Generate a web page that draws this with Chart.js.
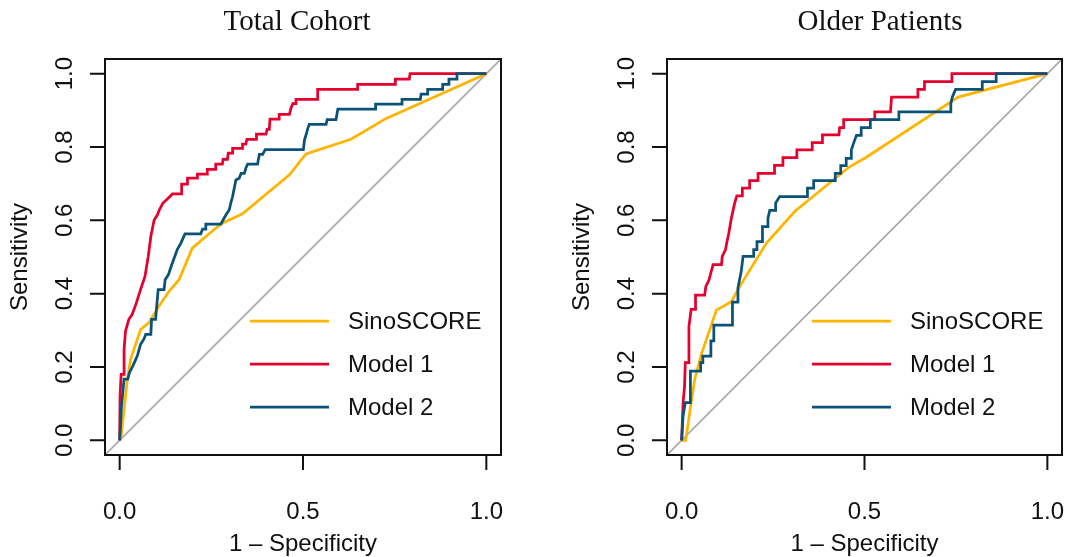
<!DOCTYPE html>
<html>
<head>
<meta charset="utf-8">
<script src="https://cdn.jsdelivr.net/npm/chart.js@4.4.0/dist/chart.umd.min.js"></script>
<style>
  body { margin: 0; background: #fff; }
  #wrap { position: relative; width: 1071px; height: 557px; }
  canvas { position: absolute; top: 0; }
</style>
</head>
<body>
<div id="wrap">
  <canvas id="totalChart" width="535" height="557" style="left:0"></canvas>
  <canvas id="olderChart" width="536" height="557" style="left:535px"></canvas>
</div>
<script>
// series names + tick labels
const seriesNames = ['SinoSCORE', 'Model 1', 'Model 2'];
const xTickValues = [0, 0.5, 1];
const xTickLabels = ['0.0', '0.5', '1.0'];
const yTickValues = [0, 0.2, 0.4, 0.6, 0.8, 1];
const yTickLabels = ['0.0', '0.2', '0.4', '0.6', '0.8', '1.0'];
const diagX = [-0.04, 1.04];
const diagY = [-0.04, 1.04];

// Total cohort (1 - specificity, sensitivity)
const totalSinoFpr = [0.003, 0.012, 0.021, 0.030, 0.057, 0.080, 0.107, 0.135, 0.162, 0.198, 0.240, 0.276, 0.335, 0.463, 0.508, 0.631, 0.727, 1.0];
const totalSinoSens = [0.0, 0.085, 0.167, 0.221, 0.302, 0.321, 0.366, 0.407, 0.438, 0.524, 0.560, 0.590, 0.618, 0.724, 0.781, 0.821, 0.878, 1.0];

const totalM1Fpr = [0, 0.001, 0.004, 0.012, 0.012, 0.016, 0.025, 0.034, 0.044, 0.057, 0.069, 0.078, 0.085, 0.094, 0.103, 0.109, 0.118, 0.130, 0.144, 0.169, 0.169, 0.185, 0.185, 0.212, 0.212, 0.239, 0.239, 0.262, 0.262, 0.280, 0.282, 0.294, 0.296, 0.308, 0.308, 0.335, 0.335, 0.344, 0.347, 0.373, 0.373, 0.399, 0.402, 0.408, 0.410, 0.435, 0.435, 0.463, 0.467, 0.472, 0.481, 0.481, 0.540, 0.540, 0.649, 0.649, 0.752, 0.752, 0.790, 0.792, 1.0];
const totalM1Sens = [0, 0.121, 0.180, 0.180, 0.248, 0.298, 0.330, 0.343, 0.370, 0.411, 0.447, 0.502, 0.556, 0.601, 0.615, 0.630, 0.647, 0.658, 0.672, 0.672, 0.699, 0.699, 0.715, 0.715, 0.726, 0.726, 0.739, 0.739, 0.753, 0.753, 0.766, 0.766, 0.783, 0.783, 0.796, 0.796, 0.808, 0.808, 0.821, 0.821, 0.835, 0.835, 0.848, 0.848, 0.876, 0.876, 0.889, 0.889, 0.905, 0.918, 0.918, 0.930, 0.930, 0.957, 0.957, 0.971, 0.971, 0.985, 0.985, 1.0, 1.0];

const totalM2Fpr = [0, 0.005, 0.012, 0.022, 0.027, 0.036, 0.048, 0.057, 0.066, 0.071, 0.085, 0.087, 0.098, 0.105, 0.121, 0.124, 0.133, 0.142, 0.157, 0.167, 0.178, 0.221, 0.226, 0.235, 0.235, 0.276, 0.282, 0.290, 0.299, 0.303, 0.308, 0.317, 0.326, 0.331, 0.340, 0.344, 0.349, 0.376, 0.381, 0.390, 0.397, 0.501, 0.504, 0.508, 0.513, 0.517, 0.563, 0.566, 0.590, 0.595, 0.698, 0.698, 0.770, 0.770, 0.820, 0.822, 0.840, 0.840, 0.881, 0.881, 0.898, 0.898, 0.920, 0.920, 1.0];
const totalM2Sens = [0, 0.094, 0.167, 0.167, 0.185, 0.203, 0.230, 0.262, 0.276, 0.289, 0.289, 0.330, 0.330, 0.411, 0.411, 0.438, 0.452, 0.479, 0.520, 0.538, 0.563, 0.563, 0.576, 0.576, 0.590, 0.590, 0.601, 0.615, 0.629, 0.647, 0.665, 0.710, 0.715, 0.728, 0.728, 0.742, 0.753, 0.753, 0.780, 0.780, 0.793, 0.793, 0.819, 0.832, 0.850, 0.862, 0.862, 0.875, 0.875, 0.903, 0.903, 0.917, 0.917, 0.930, 0.930, 0.944, 0.944, 0.957, 0.957, 0.971, 0.971, 0.985, 0.985, 1.0, 1.0];

// Older patients
const olderSinoFpr = [0, 0.011, 0.017, 0.026, 0.036, 0.054, 0.095, 0.136, 0.159, 0.232, 0.309, 0.459, 0.505, 0.756, 1.0];
const olderSinoSens = [0, 0, 0.040, 0.103, 0.167, 0.235, 0.355, 0.378, 0.420, 0.538, 0.624, 0.746, 0.772, 0.936, 1.0];

const olderM1Fpr = [0, 0.004, 0.008, 0.010, 0.019, 0.020, 0.026, 0.038, 0.038, 0.063, 0.066, 0.075, 0.081, 0.086, 0.109, 0.111, 0.120, 0.124, 0.129, 0.136, 0.145, 0.151, 0.166, 0.166, 0.186, 0.186, 0.209, 0.209, 0.254, 0.254, 0.277, 0.277, 0.315, 0.315, 0.357, 0.357, 0.385, 0.385, 0.430, 0.432, 0.443, 0.443, 0.528, 0.528, 0.571, 0.574, 0.646, 0.646, 0.664, 0.664, 0.739, 0.739, 1.0];
const olderM1Sens = [0, 0.103, 0.148, 0.212, 0.212, 0.311, 0.357, 0.357, 0.396, 0.396, 0.419, 0.438, 0.461, 0.479, 0.479, 0.502, 0.520, 0.542, 0.565, 0.606, 0.647, 0.667, 0.667, 0.688, 0.688, 0.708, 0.708, 0.728, 0.728, 0.750, 0.750, 0.771, 0.771, 0.792, 0.792, 0.812, 0.812, 0.833, 0.833, 0.853, 0.853, 0.875, 0.875, 0.896, 0.896, 0.936, 0.936, 0.957, 0.957, 0.978, 0.978, 1.0, 1.0];

const olderM2Fpr = [0, 0.004, 0.010, 0.024, 0.024, 0.052, 0.052, 0.058, 0.058, 0.080, 0.080, 0.088, 0.088, 0.139, 0.139, 0.154, 0.154, 0.163, 0.168, 0.197, 0.197, 0.206, 0.206, 0.221, 0.221, 0.236, 0.236, 0.241, 0.257, 0.257, 0.268, 0.344, 0.344, 0.361, 0.361, 0.420, 0.420, 0.435, 0.435, 0.450, 0.450, 0.464, 0.464, 0.470, 0.478, 0.491, 0.491, 0.516, 0.516, 0.594, 0.594, 0.736, 0.736, 0.740, 0.749, 0.822, 0.822, 0.860, 0.860, 1.0];
const olderM2Sens = [0, 0.067, 0.103, 0.103, 0.189, 0.189, 0.212, 0.212, 0.230, 0.230, 0.271, 0.271, 0.314, 0.314, 0.377, 0.377, 0.416, 0.461, 0.502, 0.502, 0.520, 0.520, 0.542, 0.542, 0.583, 0.583, 0.606, 0.627, 0.627, 0.647, 0.665, 0.665, 0.688, 0.688, 0.708, 0.708, 0.728, 0.728, 0.749, 0.749, 0.769, 0.769, 0.792, 0.810, 0.832, 0.832, 0.853, 0.853, 0.875, 0.875, 0.896, 0.896, 0.918, 0.936, 0.957, 0.957, 0.978, 0.978, 1.0, 1.0];

const colors = ['#FFB400', '#E5002D', '#0B5279'];

function toPoints(xs, ys) {
    return xs.map((x, i) => ({ x: x, y: ys[i] }));
}

// frame, ticks, labels, legend (R base graphics look)
const rocAxes = {
    id: 'rocAxes',
    afterDatasetsDraw(chart, args, opts) {
        const ctx = chart.ctx;
        const a = chart.chartArea;
        const xs = chart.scales.x, ys = chart.scales.y;
        ctx.save();
        ctx.strokeStyle = '#111';
        ctx.lineWidth = 2;
        ctx.strokeRect(a.left, a.top, a.right - a.left, a.bottom - a.top);

        ctx.beginPath();
        xTickValues.forEach(v => {
            const px = xs.getPixelForValue(v);
            ctx.moveTo(px, a.bottom);
            ctx.lineTo(px, a.bottom + 15);
        });
        yTickValues.forEach(v => {
            const py = ys.getPixelForValue(v);
            ctx.moveTo(a.left, py);
            ctx.lineTo(a.left - 15, py);
        });
        ctx.stroke();

        ctx.fillStyle = '#111';
        ctx.font = '24px "Liberation Sans", Arial, sans-serif';
        ctx.textAlign = 'center';
        ctx.textBaseline = 'middle';
        xTickValues.forEach((v, i) => {
            ctx.fillText(xTickLabels[i], xs.getPixelForValue(v), 512);
        });
        yTickValues.forEach((v, i) => {
            ctx.save();
            ctx.translate(a.left - 40, ys.getPixelForValue(v));
            ctx.rotate(-Math.PI / 2);
            ctx.fillText(yTickLabels[i], 0, 0);
            ctx.restore();
        });

        ctx.fillText('1 \u2013 Specificity', (a.left + a.right) / 2, 544);
        ctx.save();
        ctx.translate(a.left - 85, (a.top + a.bottom) / 2);
        ctx.rotate(-Math.PI / 2);
        ctx.fillText('Sensitivity', 0, 0);
        ctx.restore();

        // legend, no box
        const rows = [321, 364, 407];
        seriesNames.forEach((name, i) => {
            ctx.strokeStyle = colors[i];
            ctx.lineWidth = 2.75;
            ctx.beginPath();
            ctx.moveTo(a.left + 145, rows[i]);
            ctx.lineTo(a.left + 224, rows[i]);
            ctx.stroke();
            ctx.fillStyle = '#111';
            ctx.textAlign = 'left';
            ctx.fillText(name, a.left + 243, rows[i] + 1);
        });

        ctx.font = '29px "Liberation Serif", "Times New Roman", serif';
        ctx.textAlign = 'center';
        ctx.fillText(opts.title, opts.titleX, 22);
        ctx.restore();
    }
};

function makeRoc(canvasId, title, titleX, pad, sino, m1, m2) {
    const ctx = document.getElementById(canvasId).getContext('2d');
    return new Chart(ctx, {
        type: 'line',
        data: {
            datasets: [
                { data: toPoints(diagX, diagY), borderColor: '#A8A8A8', borderWidth: 1.6, order: 4 },
                { label: seriesNames[0], data: toPoints(sino[0], sino[1]), borderColor: colors[0], borderWidth: 2.75, order: 3 },
                { label: seriesNames[1], data: toPoints(m1[0], m1[1]), borderColor: colors[1], borderWidth: 2.75, order: 2 },
                { label: seriesNames[2], data: toPoints(m2[0], m2[1]), borderColor: colors[2], borderWidth: 2.75, order: 1 }
            ]
        },
        options: {
            responsive: false,
            animation: false,
            events: [],
            layout: { padding: pad },
            elements: { point: { radius: 0 }, line: { tension: 0, fill: false } },
            scales: {
                x: { type: 'linear', min: -0.04, max: 1.04, display: false },
                y: { type: 'linear', min: -0.04, max: 1.04, display: false }
            },
            plugins: {
                legend: { display: false },
                tooltip: { enabled: false },
                rocAxes: { title: title, titleX: titleX }
            }
        },
        plugins: [rocAxes]
    });
}

makeRoc('totalChart', 'Total Cohort', 297, { left: 105, top: 59, right: 34, bottom: 102 },
    [totalSinoFpr, totalSinoSens], [totalM1Fpr, totalM1Sens], [totalM2Fpr, totalM2Sens]);
makeRoc('olderChart', 'Older Patients', 345, { left: 132, top: 59, right: 9, bottom: 102 },
    [olderSinoFpr, olderSinoSens], [olderM1Fpr, olderM1Sens], [olderM2Fpr, olderM2Sens]);
</script>
</body>
</html>
